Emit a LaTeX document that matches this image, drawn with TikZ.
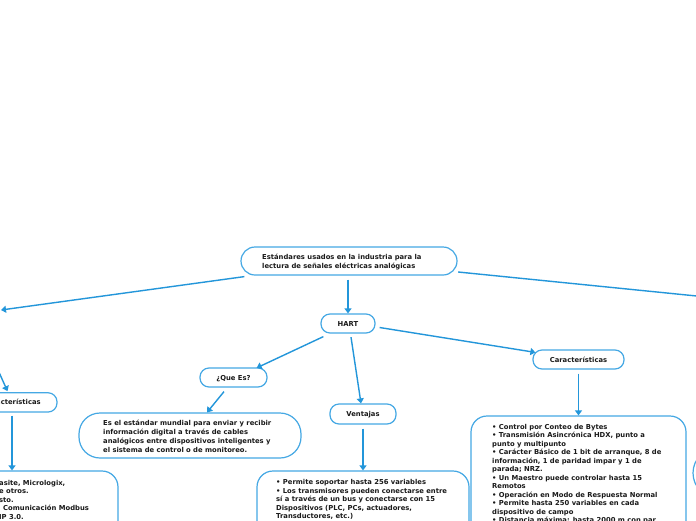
\documentclass[tikz,border=0pt]{standalone}
\usepackage{fontspec}
\setmainfont{DejaVu Sans}
\usetikzlibrary{arrows.meta,calc}
\definecolor{boxc}{HTML}{45A8E4}
\definecolor{arrc}{HTML}{2396DA}
\definecolor{txtc}{HTML}{1A1A1A}
\newcommand\txA{\fontsize{6.8pt}{9pt}\selectfont\bfseries}
\newcommand\txB{\fontsize{6.8pt}{8.5pt}\selectfont\bfseries}
\newcommand\firstln{\rule{0pt}{6pt}}
\tikzset{
  box/.style={draw=boxc, line width=1.2pt, rounded corners=#1, rectangle, inner sep=0pt, fill=white, text=txtc,
    font=\txA, text height=5pt, text depth=0pt},
  box/.default=9pt,
  body/.style={align=left, inner sep=0pt, anchor=north west, text=txtc},
  arr/.style={draw=arrc, line width=1.4pt, -{Triangle[length=5pt,width=7pt]}},
  plainline/.style={draw=arrc, line width=1.4pt},
}
\begin{document}
\begin{tikzpicture}[x=1pt,y=-1pt]
\useasboundingbox (0,0) rectangle (696,520);
\fill[white] (0,0) rectangle (696,520);

% boxes
\node[box=14pt, minimum width=216pt, minimum height=28pt] (title) at (349,261) {};
\node[box, minimum width=54pt, minimum height=19pt] (hart) at (348,323.5) {HART};
\node[box, minimum width=67pt, minimum height=19pt] (qe) at (233.5,377.5) {¿Que Es?};
\node[box, minimum width=66pt, minimum height=20pt] (vent) at (363,414) {Ventajas};
\node[box, minimum width=91pt, minimum height=19pt] (charR) at (578.5,359.5) {Características};
\node[box, minimum width=90pt, minimum height=19.3pt] (charL) at (12,402.4) {Características};
\node[box=21pt, minimum width=222pt, minimum height=45pt] (expl) at (190,435.5) {};
\node[box=16pt, minimum width=212pt, minimum height=129pt] (ventC) at (363,535.5) {};
\node[box=16pt, minimum width=215pt, minimum height=204pt] (rightC) at (578.5,518) {};
\node[box=16pt, minimum width=212pt, minimum height=129pt] (leftC) at (12,535.5) {};
\node[box=25pt, minimum width=107pt, minimum height=50pt] (rEdge) at (746.5,473) {};

% texts
\node[body, font=\txA] (titletxt) at (262,253.2) {\firstln Estándares usados en la industria para la\\lectura de señales eléctricas analógicas};
\node[body, font=\txA] (expltxt) at (103,419.2) {\firstln Es el estándar mundial para enviar y recibir\\información digital a través de cables\\analógicos entre dispositivos inteligentes y\\el sistema de control o de monitoreo.};
\node[body, font=\txB] (venttxt) at (276,478.5) {\firstln • Permite soportar hasta 256 variables\\• Los transmisores pueden conectarse entre\\sí a través de un bus y conectarse con 15\\Dispositivos (PLC, PCs, actuadores,\\Transductores, etc.)};
\node[body, font=\txB] (righttxt) at (492,423.2) {\firstln • Control por Conteo de Bytes\\• Transmisión Asincrónica HDX, punto a\\punto y multipunto\\• Carácter Básico de 1 bit de arranque, 8 de\\información, 1 de paridad impar y 1 de\\parada; NRZ.\\• Un Maestro puede controlar hasta 15\\Remotos\\• Operación en Modo de Respuesta Normal\\• Permite hasta 250 variables en cada\\dispositivo de campo\\• Distancia máxima: hasta 2000 m con par};
\node[body, font=\txB] (lefttxt) at (-1,479.2) {\firstln asite, Micrologix,\\e otros.\\sto.\\\hspace{4pt}Comunicación Modbus\\IP 3.0.};

% free ends of connectors
\coordinate (ltgt) at (1,310);
\coordinate (rtgt) at (800,306.4);
\coordinate (lsrc) at (-20,330);

% connectors
\draw[arr, shorten <=4pt] ($(title.south)+(-1,0)$) -- (hart.north);
\draw[arr] ($(title.south west)+(4,1)$) -- (ltgt);
\draw[plainline] ($(title.east)+(0.5,11)$) -- (rtgt);
\draw[arr] (lsrc) -- ($(charL.north)+(-4.5,-1)$);
\draw[arr] ($(hart.south west)+(3,3)$) -- ($(qe.north east)+(-11,0.5)$);
\draw[arr] ($(hart.south)+(3,3.5)$) -- ($(vent.north)+(-2,0)$);
\draw[arr] ($(hart.east)+(4,4)$) -- ($(charR.north west)+(3,3)$);
\draw[arr] ($(qe.south)+(-9.5,4)$) -- ($(expl.north)+(17,0)$);
\draw[arr] ($(charL.south)+(0,3)$) -- (leftC.north);
\draw[arr] ($(vent.south)+(0,4)$) -- (ventC.north);
\draw[arr] ($(charR.south)+(0,4)$) -- (rightC.north);
\end{tikzpicture}
\end{document}
